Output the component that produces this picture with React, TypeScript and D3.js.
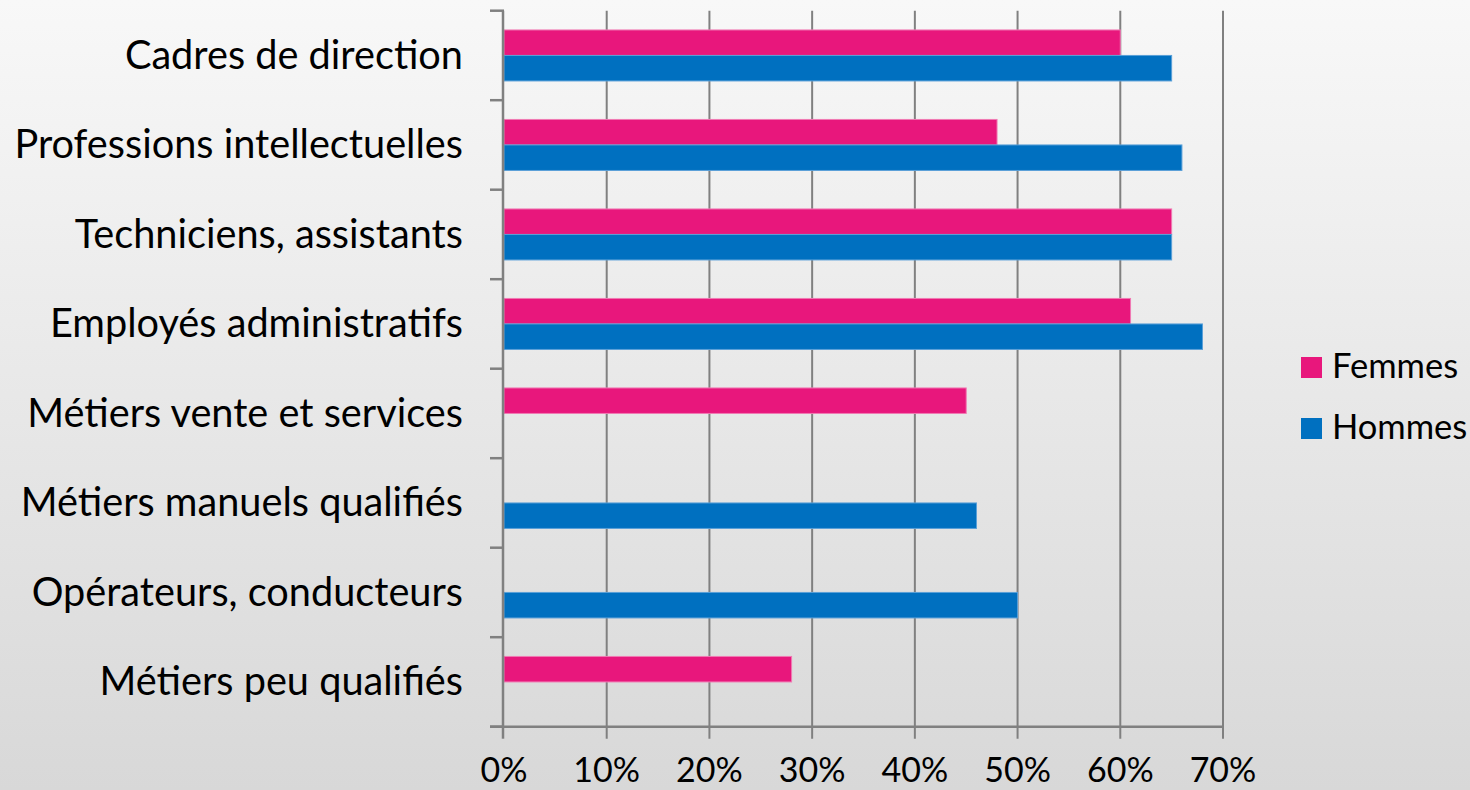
import React from "react";
import * as d3 from "d3";

const categories = [
  "Cadres de direction",
  "Professions intellectuelles",
  "Techniciens, assistants",
  "Employés administratifs",
  "Métiers vente et services",
  "Métiers manuels qualifiés",
  "Opérateurs, conducteurs",
  "Métiers peu qualifiés",
];
const seriesNames = ["Femmes", "Hommes"];
const femmes = [60, 48, 65, 61, 45, 0, 0, 28];
const hommes = [65, 66, 65, 68, 0, 46, 50, 0];
const xTicks = [0, 10, 20, 30, 40, 50, 60, 70];
const colors = ["#E8177C", "#0070C0"];
const strokes = ["#F07AB3", "#5AA0D8"];

const W = 1470;
const H = 790;
const FONT = "Lato, 'Open Sans', sans-serif";

export default function App() {
  const left = 504;
  const right = 1223;
  const top = 10.7;
  const bottom = 726.7;

  const x = d3.scaleLinear().domain([0, 70]).range([left, right]);
  const y = d3.scaleBand<string>().domain(categories).range([top, bottom]).padding(0);
  const sub = d3
    .scaleBand<string>()
    .domain(seriesNames)
    .range([0, y.bandwidth()])
    .paddingInner(0)
    .paddingOuter(0.755);

  const data = [femmes, hommes];
  const axisColor = "#808080";
  const catFont = 39.7;

  return (
    <svg
      width={W}
      height={H}
      style={{ position: "absolute", left: 0, top: 0, display: "block" }}
      fontFamily={FONT}
    >
      <defs>
        <linearGradient id="bg" x1="0" y1="0" x2="0" y2="1">
          <stop offset="0" stopColor="#F8F8F8" />
          <stop offset="1" stopColor="#D8D8D8" />
        </linearGradient>
      </defs>
      <rect x={0} y={0} width={W} height={H} fill="url(#bg)" />

      {/* grid lines */}
      {xTicks.slice(1).map((t) => (
        <line
          key={"g" + t}
          x1={x(t)}
          x2={x(t)}
          y1={top}
          y2={bottom + 12}
          stroke={axisColor}
          strokeWidth={2}
        />
      ))}

      {/* bars */}
      {categories.map((c, i) =>
        seriesNames.map((s, j) => {
          const v = data[j][i];
          if (!v) return null;
          const y0 = (y(c) as number) + (sub(s) as number);
          return (
            <rect
              key={c + s}
              x={x(0)}
              y={y0}
              width={x(v) - x(0)}
              height={sub.bandwidth()}
              fill={colors[j]}
              stroke={strokes[j]}
              strokeWidth={1}
            />
          );
        })
      )}

      {/* y axis */}
      <line x1={left - 1} x2={left - 1} y1={top} y2={bottom} stroke={axisColor} strokeWidth={2.5} />
      {d3.range(categories.length + 1).map((k) => {
        const yy = top + k * y.step();
        return (
          <line key={"yt" + k} x1={left - 14} x2={left} y1={yy} y2={yy} stroke={axisColor} strokeWidth={2.5} />
        );
      })}
      {/* x axis */}
      <line x1={left - 14} x2={right} y1={bottom} y2={bottom} stroke={axisColor} strokeWidth={2.5} />
      <line x1={left - 1} x2={left - 1} y1={bottom} y2={bottom + 12} stroke={axisColor} strokeWidth={2.5} />

      {/* category labels */}
      {categories.map((c) => (
        <text
          key={"l" + c}
          x={463}
          y={(y(c) as number) + y.bandwidth() / 2 + catFont * 0.34}
          textAnchor="end"
          fontSize={catFont}
          fill="#000"
        >
          {c}
        </text>
      ))}

      {/* x tick labels */}
      {xTicks.map((t) => (
        <text key={"xl" + t} x={x(t)} y={782} textAnchor="middle" fontSize={34} fill="#000">
          {t}%
        </text>
      ))}

      {/* legend */}
      {seriesNames.map((s, j) => (
        <g key={"lg" + s} transform={`translate(1301, ${357 + j * 61})`}>
          <rect x={0} y={0} width={21} height={21} fill={colors[j]} />
          <text x={31} y={21} fontSize={34.5} fill="#000">
            {s}
          </text>
        </g>
      ))}
    </svg>
  );
}
